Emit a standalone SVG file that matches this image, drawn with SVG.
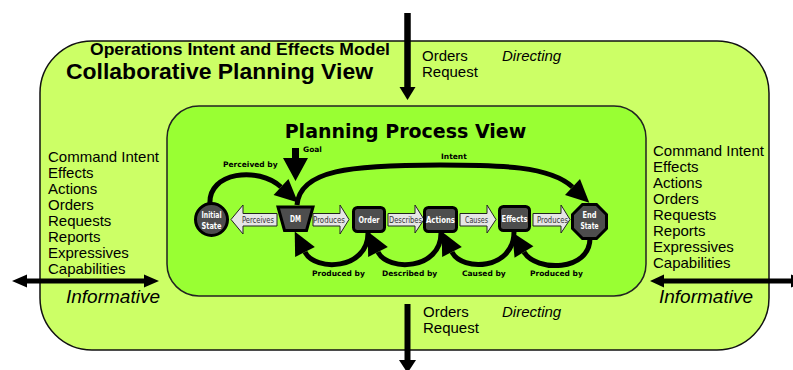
<svg xmlns="http://www.w3.org/2000/svg" width="793" height="370" viewBox="0 0 793 370">
  <style>
    .outer { fill: #ccff66; stroke: #111; stroke-width: 1.5; }
    .inner { fill: #99ff33; stroke: #222; stroke-width: 1.5; }
    .flow { fill: none; stroke: #000; stroke-width: 5; marker-end: url(#head); }
    .shaft { stroke: #000; fill: none; }
    .solid { fill: #000; }
    .node { fill: #4d4d4d; stroke: #000; stroke-width: 3; }
    .nl { font-family: "DejaVu Sans", Verdana, sans-serif; font-weight: bold; font-size: 9.5px; fill: #fff; text-anchor: middle; }
    .pipe { fill: #e6e6e6; stroke: #222; stroke-width: 1; }
    .pl { font-family: "DejaVu Sans", Verdana, sans-serif; font-size: 8px; fill: #333; text-anchor: middle; }
    .lbl { font-family: "DejaVu Sans", Verdana, sans-serif; font-weight: bold; font-size: 7.5px; fill: #000; }
    .txt { font-family: "Liberation Sans", Arial, sans-serif; font-size: 15px; fill: #000; }
    .ttl { font-family: "Liberation Sans", Arial, sans-serif; font-weight: bold; fill: #000; }
    .it { font-style: italic; }
    .inf { font-family: "Liberation Sans", Arial, sans-serif; font-style: italic; font-size: 19px; fill: #000; }
    .ptitle { font-family: "DejaVu Sans", Verdana, sans-serif; font-weight: bold; font-size: 19px; fill: #000; text-anchor: middle; }
  </style>
  <defs>
    <!-- solid arrowhead; the path ends at the head's base -->
    <marker id="head" markerUnits="userSpaceOnUse" orient="auto" viewBox="0 -12 24 24" refX="0" refY="0" markerWidth="24" markerHeight="24" overflow="visible">
      <path d="M0,-11 L23,0 L0,11 Z" fill="#000"/>
    </marker>
  </defs>

  <!-- outer container -->
  <g id="collaborative-planning-view">
    <rect class="outer" x="40" y="41" width="729" height="309" rx="52"/>
    <text class="ttl" x="90" y="55" font-size="17" textLength="300" lengthAdjust="spacingAndGlyphs">Operations Intent and Effects Model</text>
    <text class="ttl" x="66" y="79" font-size="22" textLength="307" lengthAdjust="spacingAndGlyphs">Collaborative Planning View</text>
    <text class="txt" x="422" y="61">Orders</text>
    <text class="txt" x="422" y="77">Request</text>
    <text class="txt it" x="502" y="61">Directing</text>
    <text class="txt" x="423" y="317">Orders</text>
    <text class="txt" x="423" y="333">Request</text>
    <text class="txt it" x="502" y="317">Directing</text>
    <g class="txt">
      <text x="48" y="162">Command Intent</text>
      <text x="48" y="178">Effects</text>
      <text x="48" y="194">Actions</text>
      <text x="48" y="210">Orders</text>
      <text x="48" y="226">Requests</text>
      <text x="48" y="242">Reports</text>
      <text x="48" y="258">Expressives</text>
      <text x="48" y="274">Capabilities</text>
    </g>
    <g class="txt">
      <text x="653" y="156">Command Intent</text>
      <text x="653" y="172">Effects</text>
      <text x="653" y="188">Actions</text>
      <text x="653" y="204">Orders</text>
      <text x="653" y="220">Requests</text>
      <text x="653" y="236">Reports</text>
      <text x="653" y="252">Expressives</text>
      <text x="653" y="268">Capabilities</text>
    </g>
    <text class="inf" x="66" y="303">Informative</text>
    <text class="inf" x="659" y="303">Informative</text>
  </g>

  <!-- inner container -->
  <g id="planning-process-view">
    <rect class="inner" x="167" y="106" width="479" height="190" rx="32"/>
    <text class="ptitle" x="405.5" y="138">Planning Process View</text>
  </g>

  <!-- connectors -->
  <g id="connectors">
    <!-- directing arrows -->
    <line class="shaft" x1="407.5" y1="13" x2="407.5" y2="88" stroke-width="6.5"/>
    <polygon class="solid" points="399.5,87 415.5,87 407.5,100"/>
    <line class="shaft" x1="407.5" y1="304" x2="407.5" y2="361" stroke-width="6"/>
    <polygon class="solid" points="399,360 416,360 407.5,373"/>
    <!-- informative double arrows -->
    <line class="shaft" x1="26" y1="281" x2="145" y2="281" stroke-width="5"/>
    <polygon class="solid" points="12,281 27,274.5 27,287.5"/>
    <polygon class="solid" points="159,281 144,274.5 144,287.5"/>
    <line class="shaft" x1="663" y1="281" x2="793" y2="281" stroke-width="5"/>
    <polygon class="solid" points="650,281 664,274.5 664,287.5"/>
    <polygon class="solid" points="806,281 791,274.5 791,287.5"/>

    <!-- goal -->
    <polygon class="solid" points="292,148 299,148 299,158 308,158 295.5,181 283,158 292,158"/>
    <text class="lbl" x="303" y="152">Goal</text>

    <!-- perceived by / intent -->
    <path class="flow" d="M210,204 C208,172 258,166 281,187"/>
    <text class="lbl" x="223" y="167">Perceived by</text>
    <path class="flow" d="M297,205 C300,170 350,165 440,165 C500,165 550,166 572.5,187"/>
    <text class="lbl" x="441" y="159">Intent</text>

    <!-- return arcs -->
    <path class="flow" d="M368,233 C368,270 315,272 305,252"/>
    <text class="lbl" x="312" y="275.5">Produced by</text>
    <path class="flow" d="M441,233 C441,270 388,272 378,252"/>
    <text class="lbl" x="382" y="275.5">Described by</text>
    <path class="flow" d="M514,232 C514,270 462,272 452,252"/>
    <text class="lbl" x="462" y="275.5">Caused by</text>
    <path class="flow" d="M590,238 C590,272 536,272 524,252"/>
    <text class="lbl" x="530" y="275.5">Produced by</text>

    <!-- labelled block arrows between nodes -->
    <polygon class="pipe" points="231,219.5 243,205 243,213.5 277,213.5 277,226 243,226 243,234"/>
    <text class="pl" x="258" y="223" textLength="32" lengthAdjust="spacingAndGlyphs">Perceives</text>
    <polygon class="pipe" points="313,213.5 340,213.5 340,205 349,219.5 340,234 340,226 313,226"/>
    <text class="pl" x="329" y="223" textLength="32" lengthAdjust="spacingAndGlyphs">Produces</text>
    <polygon class="pipe" points="388,213.5 415,213.5 415,205 424,219.5 415,233 415,226 388,226"/>
    <text class="pl" x="405.5" y="223" textLength="33" lengthAdjust="spacingAndGlyphs">Describes</text>
    <polygon class="pipe" points="460,213.5 487,213.5 487,205 496,219.5 487,233 487,226 460,226"/>
    <text class="pl" x="476.5" y="223" textLength="23" lengthAdjust="spacingAndGlyphs">Causes</text>
    <polygon class="pipe" points="533,213.5 561,213.5 561,205 570,219.5 561,233 561,226 533,226"/>
    <text class="pl" x="552.5" y="223" textLength="31" lengthAdjust="spacingAndGlyphs">Produces</text>
  </g>

  <!-- process nodes -->
  <g id="initial-state">
    <circle class="node" cx="211.5" cy="219.5" r="16"/>
    <text class="nl" x="211.5" y="218" textLength="20" lengthAdjust="spacingAndGlyphs">Initial</text>
    <text class="nl" x="211.5" y="228.5" textLength="20" lengthAdjust="spacingAndGlyphs">State</text>
  </g>
  <g id="dm">
    <polygon class="node" points="278,207 313,207 306.5,230.5 284.5,230.5"/>
    <text class="nl" x="295.5" y="221.5" textLength="11" lengthAdjust="spacingAndGlyphs">DM</text>
  </g>
  <g id="order">
    <rect class="node" x="353.5" y="207.5" width="31" height="24" rx="4"/>
    <text class="nl" x="369" y="223" textLength="21" lengthAdjust="spacingAndGlyphs">Order</text>
  </g>
  <g id="actions">
    <rect class="node" x="424.5" y="207.5" width="32" height="24" rx="4"/>
    <text class="nl" x="440.5" y="223" textLength="29" lengthAdjust="spacingAndGlyphs">Actions</text>
  </g>
  <g id="effects">
    <rect class="node" x="499.5" y="206.5" width="30" height="24" rx="4"/>
    <text class="nl" x="514.5" y="222" textLength="26" lengthAdjust="spacingAndGlyphs">Effects</text>
  </g>
  <g id="end-state">
    <polygon class="node" points="606.5,228.5 596.5,238.5 582.5,238.5 572.5,228.5 572.5,214.5 582.5,204.5 596.5,204.5 606.5,214.5"/>
    <text class="nl" x="589.5" y="218" textLength="14" lengthAdjust="spacingAndGlyphs">End</text>
    <text class="nl" x="589.5" y="228.5" textLength="18" lengthAdjust="spacingAndGlyphs">State</text>
  </g>
</svg>
